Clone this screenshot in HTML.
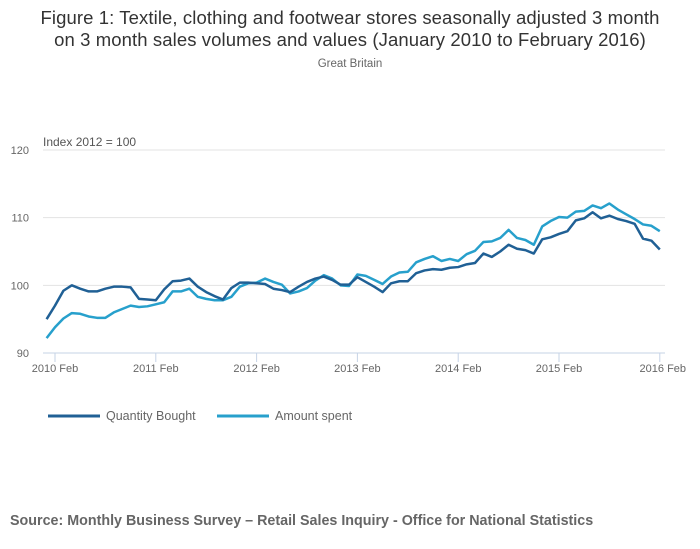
<!DOCTYPE html>
<html><head><meta charset="utf-8"><style>
body{margin:0;background:#fff;font-family:"Liberation Sans",sans-serif;}
#wrap{position:relative;width:700px;height:549px;overflow:hidden;}
.t{position:absolute;left:0;width:700px;text-align:center;color:#333;}
</style></head><body>
<div id="wrap">
<div class="t" style="top:7px;font-size:18.5px;line-height:22px;letter-spacing:0.1px;">Figure 1: Textile, clothing and footwear stores seasonally adjusted 3 month<br>on 3 month sales volumes and values (January 2010 to February 2016)</div>
<div class="t" style="top:58px;font-size:11.5px;color:#666;">Great Britain</div>
<svg id="chart" width="700" height="549" style="position:absolute;left:0;top:0"></svg>
<div style="position:absolute;left:10px;top:513px;font-size:14.3px;font-weight:bold;color:#666;">Source: Monthly Business Survey – Retail Sales Inquiry - Office for National Statistics</div>
</div>
<script>
const yTicks=[90,100,110,120];
const xLabels=["2010 Feb","2011 Feb","2012 Feb","2013 Feb","2014 Feb","2015 Feb","2016 Feb"];
const quantity=[95,97,99.2,100,99.5,99.1,99.1,99.5,99.8,99.8,99.7,98,
97.9,97.8,99.4,100.6,100.7,101,99.8,99,98.4,97.9,99.6,100.4,
100.4,100.3,100.2,99.5,99.3,99,99.8,100.5,101,101.3,100.8,100.1,
100.1,101.2,100.5,99.8,99,100.3,100.6,100.6,101.8,102.2,102.4,102.3,
102.6,102.7,103.1,103.3,104.7,104.2,105,106,105.4,105.2,104.7,106.8,
107.1,107.6,108,109.6,109.9,110.8,109.9,110.3,109.8,109.5,109.1,106.9,
106.6,105.3];
const amount=[92.2,93.8,95.1,95.9,95.8,95.4,95.2,95.2,96,96.5,97,96.8,
96.9,97.2,97.5,99.1,99.1,99.5,98.3,98,97.8,97.8,98.3,99.8,
100.3,100.4,101,100.5,100.1,98.8,99.1,99.6,100.7,101.5,101,100,
99.9,101.6,101.4,100.8,100.2,101.3,101.9,102,103.4,103.9,104.3,103.6,
103.9,103.6,104.6,105.1,106.4,106.5,107,108.2,107,106.7,106,108.7,
109.5,110.1,110,110.9,111,111.8,111.4,112.1,111.2,110.5,109.8,109,
108.8,108];
const svg=document.getElementById('chart');const NS="http://www.w3.org/2000/svg";
const X=i=>55+(i-1)*100.8/12;
const Y=v=>353-(v-90)*(203/30);
function mk(tag,attrs,parent){const e=document.createElementNS(NS,tag);for(const k in attrs)e.setAttribute(k,attrs[k]);(parent||svg).appendChild(e);return e;}
yTicks.forEach(v=>{
 const l=mk('line',{x1:43,x2:665,y1:Y(v),y2:Y(v),stroke:v===90?'#c6d3e6':'#e3e3e3','stroke-width':1});
 
 
 const t=mk('text',{x:29,y:Y(v)+4,'font-size':11,fill:'#666','text-anchor':'end'});t.textContent=v;
 
 
});
const yt=mk('text',{x:43,y:146,'font-size':12,fill:'#555'});yt.textContent='Index 2012 = 100';


xLabels.forEach((s,k)=>{
 const x=X(1+12*k);
 const tk=mk('line',{x1:x,x2:x,y1:353,y2:362,stroke:'#c6d3e6'});
 
 
 const t=mk('text',{x:x+(k===6?3:0),y:372,'font-size':11,fill:'#666','text-anchor':'middle'});t.textContent=s;
 
 
});
function line(data,color,name){
 const p=mk('polyline',{points:data.map((v,i)=>X(i)+','+Y(v)).join(' '),fill:'none',stroke:color,'stroke-width':2.5,'stroke-linejoin':'round'});
 
 
}
line(amount,'#27a0cc','series-amount-spent');
line(quantity,'#206095','series-quantity-bought');
[[48,'#206095','Quantity Bought','legend-quantity-bought'],[217,'#27a0cc','Amount spent','legend-amount-spent']].forEach(a=>{
 const g=mk('g',{});
 
 
 mk('line',{x1:a[0],x2:a[0]+52,y1:416,y2:416,stroke:a[1],'stroke-width':3},g);
 const t=mk('text',{x:a[0]+58,y:420,'font-size':12.5,fill:'#666'},g);t.textContent=a[2];
});
</script>
</body></html>
